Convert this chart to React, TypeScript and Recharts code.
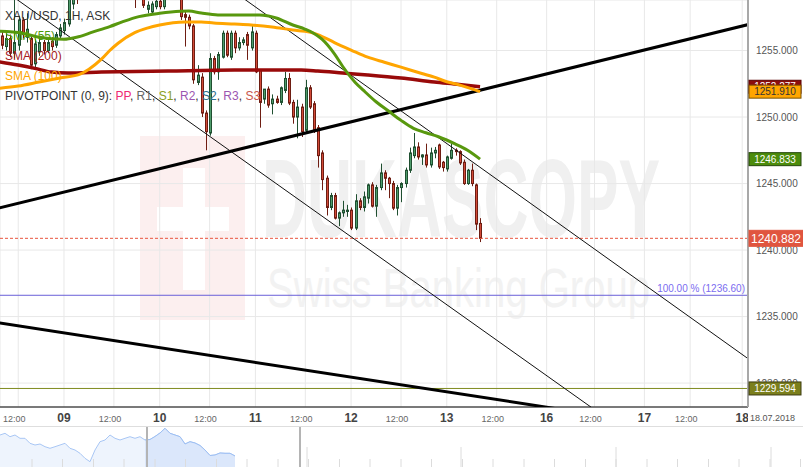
import React from 'react';
import {
  ComposedChart, Bar, Line, XAxis, YAxis, CartesianGrid, ReferenceLine, AreaChart, Area,
} from 'recharts';

const FONT = '"Liberation Sans", Arial, Helvetica, sans-serif';

// hourly candles; index 0 = 09 Jul 00:00 (23 trading hours per day)
const FIRST_INDEX = -15;
// [open, high, low, close]
const ohlc: number[][] = [
  [1256.1, 1256.4, 1255.1, 1255.4], [1255.3, 1256.3, 1255.0, 1255.9], [1255.9, 1256.2, 1254.5, 1254.8],
  [1254.8, 1258.8, 1254.4, 1255.6], [1255.4, 1257.6, 1255.0, 1257.3], [1257.3, 1257.5, 1255.9, 1256.2],
  [1256.0, 1257.8, 1255.6, 1256.6], [1255.9, 1256.2, 1253.6, 1253.9], [1254.0, 1255.9, 1253.7, 1255.5],
  [1254.9, 1256.0, 1254.6, 1255.6], [1255.6, 1255.8, 1254.7, 1255.0], [1255.0, 1256.0, 1254.8, 1255.6],
  [1255.7, 1256.0, 1255.0, 1255.3], [1255.4, 1256.4, 1255.2, 1256.2], [1256.1, 1257.0, 1255.8, 1256.7],
  [1256.5, 1257.4, 1256.2, 1257.1], [1257.0, 1259.5, 1256.8, 1259.1], [1258.5, 1260.0, 1258.1, 1259.6],
  [1259.6, 1260.2, 1258.5, 1258.9], [1259.2, 1260.5, 1258.9, 1260.1], [1260.1, 1261.0, 1259.7, 1260.6],
  [1260.6, 1261.4, 1260.0, 1260.3], [1260.3, 1261.2, 1259.8, 1260.9], [1260.9, 1262.0, 1260.5, 1261.6],
  [1261.6, 1262.3, 1261.0, 1261.2], [1261.2, 1261.8, 1260.4, 1260.7], [1260.7, 1261.5, 1260.2, 1261.1],
  [1261.1, 1261.6, 1260.3, 1260.5], [1260.5, 1261.0, 1259.6, 1259.9], [1259.9, 1260.8, 1259.5, 1260.4],
  [1260.4, 1260.9, 1259.6, 1259.8], [1259.8, 1260.3, 1259.1, 1259.5], [1259.5, 1260.0, 1258.2, 1259.1],
  [1259.1, 1259.7, 1258.9, 1259.4], [1259.4, 1259.8, 1258.2, 1258.4], [1258.1, 1258.7, 1257.8, 1258.4],
  [1257.9, 1258.7, 1257.7, 1258.5], [1258.3, 1259.0, 1258.1, 1258.7], [1258.7, 1259.0, 1258.1, 1258.3],
  [1258.3, 1259.6, 1258.1, 1259.2], [1259.2, 1260.1, 1258.9, 1259.8], [1259.8, 1260.4, 1259.2, 1259.6],
  [1259.6, 1260.2, 1259.0, 1259.5], [1259.5, 1259.9, 1257.3, 1257.55], [1257.7, 1257.9, 1255.3, 1257.5],
  [1257.5, 1257.7, 1256.6, 1256.85], [1256.85, 1257.0, 1252.5, 1252.8], [1252.6, 1253.9, 1252.4, 1253.15],
  [1253.0, 1253.3, 1250.0, 1250.3], [1250.3, 1250.5, 1247.5, 1248.9], [1248.8, 1254.8, 1248.6, 1254.4],
  [1254.4, 1254.6, 1253.2, 1253.4], [1253.4, 1254.9, 1252.8, 1254.7], [1254.5, 1256.5, 1254.4, 1256.3],
  [1256.3, 1256.5, 1254.5, 1254.65], [1254.5, 1256.5, 1254.3, 1256.3], [1256.3, 1256.5, 1254.8, 1255.2],
  [1255.2, 1256.0, 1255.0, 1255.6], [1255.6, 1256.0, 1255.4, 1255.8], [1256.2, 1256.4, 1254.3, 1255.4],
  [1255.2, 1256.9, 1255.0, 1256.4], [1256.3, 1256.5, 1253.3, 1253.4], [1253.5, 1253.6, 1249.2, 1251.1],
  [1251.35, 1251.8, 1251.0, 1252.1], [1252.1, 1252.3, 1250.7, 1250.9], [1251.0, 1251.7, 1250.2, 1251.35],
  [1251.35, 1251.6, 1251.0, 1251.1], [1251.1, 1252.3, 1250.9, 1252.2], [1252.0, 1253.4, 1251.8, 1252.9],
  [1252.9, 1253.3, 1250.9, 1251.05], [1251.1, 1251.3, 1249.5, 1250.0], [1250.0, 1251.3, 1248.4, 1250.75],
  [1250.75, 1251.0, 1248.5, 1248.9], [1249.0, 1252.8, 1248.8, 1252.2], [1252.2, 1252.4, 1250.6, 1250.75],
  [1251.0, 1251.2, 1248.8, 1249.0], [1249.2, 1249.4, 1246.2, 1247.1], [1247.3, 1247.5, 1244.5, 1245.3],
  [1245.4, 1245.6, 1242.6, 1243.2], [1243.2, 1244.3, 1243.0, 1244.1], [1244.1, 1244.3, 1242.3, 1242.4],
  [1242.4, 1242.9, 1241.8, 1242.8], [1242.8, 1243.7, 1242.5, 1243.0], [1242.9, 1243.4, 1242.5, 1243.0],
  [1243.0, 1243.2, 1241.5, 1241.65], [1241.65, 1244.2, 1241.5, 1243.7], [1243.7, 1243.9, 1243.0, 1243.2],
  [1243.2, 1244.4, 1242.9, 1244.0], [1243.9, 1245.0, 1243.5, 1244.9], [1244.9, 1245.1, 1243.2, 1243.3],
  [1243.3, 1244.9, 1242.5, 1244.7], [1244.7, 1246.5, 1244.5, 1245.8], [1245.8, 1246.0, 1244.5, 1245.4],
  [1245.4, 1245.5, 1243.9, 1245.0], [1245.0, 1245.2, 1243.0, 1243.15], [1243.15, 1244.9, 1242.6, 1244.7],
  [1244.7, 1245.1, 1243.6, 1245.0], [1245.0, 1246.2, 1244.7, 1246.0], [1246.0, 1247.7, 1245.8, 1247.3],
  [1247.1, 1248.8, 1246.9, 1247.75], [1247.75, 1248.1, 1246.8, 1247.0], [1247.0, 1247.2, 1246.4, 1247.15],
  [1247.15, 1248.0, 1246.2, 1246.4], [1246.4, 1247.7, 1246.2, 1247.3], [1247.3, 1247.75, 1246.9, 1247.5],
  [1247.9, 1248.0, 1246.1, 1246.25], [1246.6, 1246.7, 1245.9, 1246.2], [1246.1, 1247.1, 1245.9, 1247.0],
  [1246.9, 1248.0, 1246.8, 1247.5], [1247.5, 1247.65, 1247.1, 1247.4], [1247.4, 1247.5, 1246.4, 1246.55],
  [1246.6, 1246.8, 1244.9, 1245.0], [1245.0, 1246.1, 1244.9, 1246.0], [1246.0, 1246.5, 1244.8, 1245.0],
  [1244.9, 1245.0, 1241.5, 1241.95], [1242.0, 1242.4, 1240.6, 1240.882],
];

// moving averages: [candle index, value]
const sma55: number[][] = [
  [-16, 1256.45], [-10, 1256.3], [-6, 1256.0], [0, 1255.85], [3, 1256.0], [7, 1256.4], [11, 1256.8],
  [14, 1257.15], [18, 1257.55], [23, 1257.8], [28, 1257.95], [30, 1257.97], [33, 1257.82], [37, 1257.68],
  [42, 1257.67], [47, 1257.67], [51, 1257.45], [55, 1256.92], [58, 1256.6], [60, 1256.3], [62, 1255.85],
  [65, 1254.75], [67, 1253.8], [70, 1252.6], [72, 1252.0], [75, 1251.15], [78, 1250.45], [81, 1249.75],
  [84, 1249.15], [87, 1248.82], [90, 1248.52], [94, 1247.98], [97, 1247.5], [100, 1246.833],
];
const sma100: number[][] = [
  [-16, 1252.15], [-11, 1252.33], [-6, 1252.63], [-1, 1252.93], [4, 1253.25], [6, 1253.6], [9, 1254.35],
  [11, 1255.0], [13, 1255.55], [17, 1256.35], [20, 1256.69], [23, 1256.92], [29, 1257.14], [33, 1257.14],
  [36, 1257.07], [41, 1256.99], [45, 1256.92], [50, 1256.77], [55, 1256.54], [59, 1256.39], [61, 1256.2],
  [65, 1255.6], [69, 1255.04], [73, 1254.5], [77, 1254.12], [81, 1253.75], [85, 1253.37], [89, 1253.0],
  [92, 1252.65], [95, 1252.42], [100, 1251.91],
];
const sma200: number[][] = [
  [-16, 1254.17], [-11, 1253.91], [-7, 1253.66], [-3, 1253.38], [1, 1253.31], [9, 1253.38], [25, 1253.46],
  [41, 1253.53], [57, 1253.53], [61, 1253.46], [67, 1253.31], [73, 1253.16], [81, 1252.93], [89, 1252.63],
  [95, 1252.45], [100, 1252.277],
];

// drawn trend lines: two anchor points each [index, price]
const trendUp: number[][] = [[-16, 1243.13], [166, 1257.07]];
const channelA: number[][] = [[-16, 1259.88], [130, 1227.45]];
const channelB: number[][] = [[40, 1259.62], [166, 1231.48]];
const trendDown: number[][] = [[-16, 1234.54], [120, 1227.99]];

// horizontal levels
const lastPrice = 1240.882;
const fibLevel = 1236.6;
const supportLevel = 1229.594;
const sma200Last = 1252.277;
const sma100Last = 1251.91;
const sma55Last = 1246.833;

const xTicks = [-11, 0, 12, 23, 35, 46, 58, 69, 81, 92, 104, 116, 127.5, 139.5, 150.5, 163];
const xTickLabels = ['12:00', '09', '12:00', '10', '12:00', '11', '12:00', '12', '12:00', '13', '12:00', '16', '12:00', '17', '12:00', '18'];
const yTicks = [1230, 1235, 1240, 1245, 1250, 1255];

// navigator overview (relative heights)
const navVals = [
  32, 33.7, 30.3, 32, 28.7, 28.7, 23.7, 22, 23, 20.3, 18.7, 20.3, 22, 23.7, 18.7, 17, 13.7, 8.7, 5.3, 17,
  25.3, 27, 32, 28.7, 27, 28.7, 30.3, 28.7, 30.3, 27, 27.5, 30.5, 34, 38.7, 33.7, 32, 30.3, 23, 25.3, 24,
  21.5, 17, 11.5, 12, 14, 13.7, 13.7, 11,
];
const navMinorTicks = [6.4, 12.5, 18.7, 24.8, 31, 37.1, 43.3, 49.4, 55.6, 61.7, 67.9, 74, 80.2, 86.3, 92.5, 98.6, 104.8, 110.9, 117.1, 123.2, 129.4, 135.5, 141.7, 147.8, 154, 160.1];
const navMajorTicks = [61.4, 92.2, 123.2, 154.2];
const navSelection = [29.4, 60];

const X_DOMAIN = [-15.38, 164.4];
const Y_DOMAIN = [1228.2, 1258.8];

const candleData = ohlc.map((v, k) => ({ i: FIRST_INDEX + k, o: v[0], h: v[1], l: v[2], c: v[3] }));
const pts = (arr: number[][]) => arr.map(([i, v]) => ({ i, v }));
const navData = navVals.map((v, k) => ({ k, v, sel: k >= 29 ? v : null }));

const Candle = (props: any) => {
  const { x, y, width, height, payload } = props;
  if (!payload || height == null) return null;
  const { o, h, l, c } = payload;
  const cx = Math.round(x + width / 2) + 0.5;
  const ppu = h - l > 0 ? height / (h - l) : 0;
  const yO = y + (h - o) * ppu;
  const yC = y + (h - c) * ppu;
  const up = c >= o;
  const edge = up ? '#1f4f30' : '#6e1d12';
  const top = Math.min(yO, yC);
  const bh = Math.max(Math.abs(yC - yO), 1);
  return (
    <g>
      <line x1={cx} x2={cx} y1={y} y2={y + height} stroke={edge} strokeWidth={1} />
      <rect x={cx - 1} y={top} width={2} height={bh} fill={up ? '#4f9c6c' : '#d24a38'} stroke={edge} strokeWidth={1} />
    </g>
  );
};

const XTick = (props: any) => {
  const { x, y, payload } = props;
  const idx = xTicks.indexOf(payload.value);
  const label = xTickLabels[idx];
  const isDay = label !== '12:00';
  const t = (
    <text x={isDay ? x : x - 4} y={y + 7} textAnchor="middle" fontFamily={FONT}
      fontSize={isDay ? 12 : 9} fontWeight={isDay ? 'bold' : 'normal'} fill={isDay ? '#444' : '#666'}>
      {label}
    </text>
  );
  if (idx === xTicks.length - 1) {
    return (
      <g>
        {t}
        <rect x={748} y={y - 4} width={55} height={14} fill="#fff" />
        <text x={750} y={y + 6} fontFamily={FONT} fontSize={9} fill="#555">18.07.2018</text>
      </g>
    );
  }
  return t;
};

const badge = (value: number, bg: string, fg: string, border: string, h: number, fs: number, w: number) => (props: any) => {
  const vb = props.viewBox || {};
  const x = (vb.x || 0) + (vb.width || 0) + 1;
  const y = vb.y || 0;
  return (
    <g>
      <rect x={x} y={y - h / 2} width={w} height={h} fill={bg} stroke={border} strokeWidth={1} />
      <text x={x + w / 2} y={y} dy="0.36em" textAnchor="middle" fontSize={fs} fontFamily={FONT} fill={fg}>
        {value.toFixed(3)}
      </text>
    </g>
  );
};

const fibLabel = (props: any) => {
  const vb = props.viewBox || {};
  const x = (vb.x || 0) + (vb.width || 0) - 3;
  const y = (vb.y || 0) - 3;
  return (
    <text x={x} y={y} textAnchor="end" fontSize={10} fontFamily={FONT} fill="#7b6cf0">
      {`100.00 % (${fibLevel.toFixed(2)})`}
    </text>
  );
};

export default function App() {
  return (
    <div style={{ position: 'absolute', left: 0, top: 0, width: 803, height: 467, background: '#fff', overflow: 'hidden' }}>
      {/* watermark */}
      <svg width={803} height={430} style={{ position: 'absolute', left: 0, top: 0 }}>
        <rect x={140} y={136} width={105} height={184} fill="#fcefef" />
        <rect x={183} y={168} width={22} height={122} fill="#fff" />
        <rect x={157} y={207} width={72} height={24} fill="#fff" />
        <text x={262} y={237} fontFamily={FONT} fontWeight="bold" fontSize={112} fill="#f0f0f0"
          textLength={398} lengthAdjust="spacingAndGlyphs">DUKASCOPY</text>
        <text x={267} y={307} fontFamily={FONT} fontSize={56} fill="#f2f2f2"
          textLength={383} lengthAdjust="spacingAndGlyphs">Swiss Banking Group</text>
      </svg>

      <div style={{ position: 'absolute', left: 0, top: 0 }}>
        <ComposedChart width={803} height={427} data={candleData} margin={{ top: 0, right: 0, bottom: 0, left: 0 }}>
          <CartesianGrid stroke="#e8e8e8" />
          <XAxis dataKey="i" type="number" domain={X_DOMAIN} allowDataOverflow ticks={xTicks} interval={0}
            tick={(p: any) => <XTick {...p} />} tickLine={false} axisLine={{ stroke: '#000' }} height={20} />
          <YAxis orientation="right" type="number" domain={Y_DOMAIN} allowDataOverflow ticks={yTicks} interval={0}
            tickFormatter={(v: number) => v.toFixed(3)} tick={{ fontSize: 10, fill: '#555', fontFamily: FONT }}
            tickLine={false} axisLine={{ stroke: '#a8a8a8', strokeWidth: 2 }} width={55} />

          <ReferenceLine y={fibLevel} stroke="#6a5fd8" strokeWidth={1} label={fibLabel} />
          <ReferenceLine y={supportLevel} stroke="#7f8a1f" strokeWidth={1} />
          <ReferenceLine y={lastPrice} stroke="#e8553f" strokeDasharray="3 2" strokeWidth={1} />

          <Line data={pts(channelA)} dataKey="v" type="linear" stroke="#111" strokeWidth={1} dot={false} activeDot={false} isAnimationActive={false} />
          <Line data={pts(channelB)} dataKey="v" type="linear" stroke="#111" strokeWidth={1} dot={false} activeDot={false} isAnimationActive={false} />
          <Line data={pts(trendUp)} dataKey="v" type="linear" stroke="#000" strokeWidth={3} dot={false} activeDot={false} isAnimationActive={false} />
          <Line data={pts(trendDown)} dataKey="v" type="linear" stroke="#000" strokeWidth={3} dot={false} activeDot={false} isAnimationActive={false} />

          <Bar dataKey={(d: any) => [d.l, d.h]} barSize={3} shape={(p: any) => <Candle {...p} />} isAnimationActive={false} />

          <Line data={pts(sma200)} dataKey="v" type="monotone" stroke="#990a0a" strokeWidth={3.5} dot={false} activeDot={false} isAnimationActive={false} />
          <Line data={pts(sma100)} dataKey="v" type="monotone" stroke="#ffa500" strokeWidth={3} dot={false} activeDot={false} isAnimationActive={false} />
          <Line data={pts(sma55)} dataKey="v" type="monotone" stroke="#58980e" strokeWidth={3} dot={false} activeDot={false} isAnimationActive={false} />
        </ComposedChart>
      </div>

      {/* price badges, on top of the axis labels */}
      <div style={{ position: 'absolute', left: 0, top: 0 }}>
        <ComposedChart width={803} height={427} data={candleData} margin={{ top: 0, right: 0, bottom: 0, left: 0 }}>
          <XAxis dataKey="i" type="number" domain={X_DOMAIN} allowDataOverflow height={20} tick={false} tickLine={false} axisLine={false} />
          <YAxis orientation="right" type="number" domain={Y_DOMAIN} allowDataOverflow width={55} tick={false} tickLine={false} axisLine={false} />
          <ReferenceLine y={supportLevel} stroke="none" label={badge(supportLevel, '#7b7f1c', '#fff', '#3c3c10', 13, 10, 52)} />
          <ReferenceLine y={lastPrice} stroke="none" label={badge(lastPrice, '#e0553f', '#fff', '#e0553f', 16, 12, 54)} />
          <ReferenceLine y={sma200Last} stroke="none" label={badge(sma200Last, '#8b0d0d', '#fff', '#5a0000', 13, 10, 52)} />
          <ReferenceLine y={sma100Last} stroke="none" label={badge(sma100Last, '#ffa500', '#333', '#7a5200', 13, 10, 52)} />
          <ReferenceLine y={sma55Last} stroke="none" label={badge(sma55Last, '#4c8c0c', '#fff', '#24470a', 13, 10, 52)} />
        </ComposedChart>
      </div>

      {/* legend */}
      <svg width={300} height={110} style={{ position: 'absolute', left: 0, top: 0 }}>
        <g fontFamily={FONT} fontSize={12}>
          <text x={5} y={20} fill="#333">XAU/USD, 1H, ASK</text>
          <text x={5} y={40} fill="#4f9a06">SMA (55)</text>
          <text x={5} y={60} fill="#a52020">SMA (200)</text>
          <text x={5} y={80} fill="#ffa500">SMA (100)</text>
          <text x={5} y={100} fill="#333">
            PIVOTPOINT (0, 9): <tspan fill="#ee2a72">PP</tspan>, <tspan fill="#666">R1</tspan>, <tspan fill="#8a9e22">S1</tspan>, <tspan fill="#9b56b0">R2</tspan>, <tspan fill="#2c6f8e">S2</tspan>, <tspan fill="#9b56b0">R3</tspan>, <tspan fill="#c8584c">S3</tspan>
          </text>
        </g>
      </svg>

      {/* navigator */}
      <div style={{ position: 'absolute', left: 0, top: 426, width: 803, height: 41, borderTop: '1px solid #dedede' }}>
        <AreaChart width={803} height={40} data={navData} margin={{ top: 0, right: 0, bottom: 0, left: 0 }}>
          <XAxis dataKey="k" type="number" domain={[0, 160.6]} hide />
          <YAxis type="number" domain={[0, 40]} hide />
          <Area dataKey="v" type="linear" stroke="#a9c7f5" strokeWidth={1} fill="#eef4fd" fillOpacity={1} dot={false} activeDot={false} isAnimationActive={false} />
          <Area dataKey="sel" type="linear" stroke="#9dbff3" strokeWidth={1} fill="#dbe7fb" fillOpacity={1} dot={false} activeDot={false} isAnimationActive={false} />
          {navMinorTicks.map((t) => (
            <ReferenceLine key={'m' + t} segment={[{ x: t, y: 0 }, { x: t, y: 8 }]} stroke="#dcdcdc" />
          ))}
          {navMajorTicks.map((t) => (
            <ReferenceLine key={'M' + t} segment={[{ x: t, y: 0 }, { x: t, y: 20 }]} stroke="#dcdcdc" />
          ))}
          {navSelection.map((t) => (
            <ReferenceLine key={'s' + t} x={t} stroke="#b4b4b4" strokeWidth={2} />
          ))}
        </AreaChart>
      </div>
    </div>
  );
}
